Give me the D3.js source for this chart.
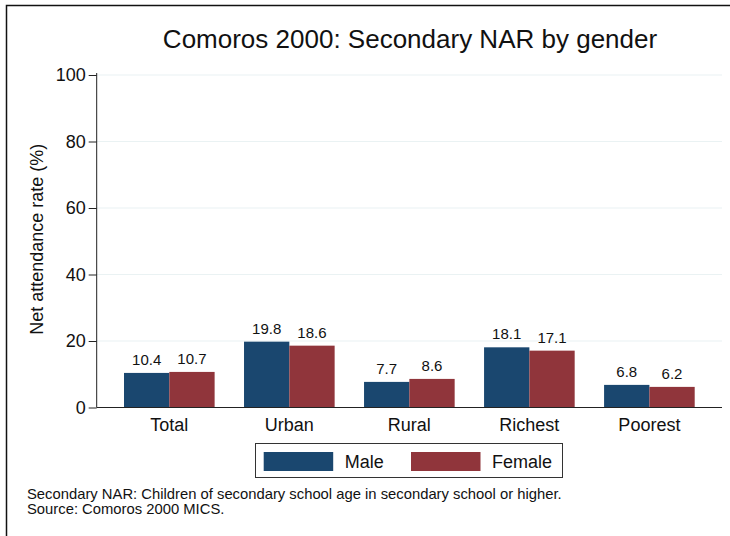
<!DOCTYPE html>
<html>
<head>
<meta charset="utf-8">
<script src="https://cdn.jsdelivr.net/npm/d3@7"></script>
<style>
  body { margin: 0; background: #fff; }
  svg { display: block; font-family: "Liberation Sans", Arial, sans-serif; }
</style>
</head>
<body>
<svg width="730" height="536"></svg>
<script>
const categories = ["Total", "Urban", "Rural", "Richest", "Poorest"];
const seriesNames = ["Male", "Female"];
const male = [10.4, 19.8, 7.7, 18.1, 6.8];
const female = [10.7, 18.6, 8.6, 17.1, 6.2];
const yTicks = [0, 20, 40, 60, 80, 100];
const colors = { Male: "#1a476f", Female: "#90353b" };

const data = categories.map((c, i) => ({ cat: c, Male: male[i], Female: female[i] }));

const svg = d3.select("svg");

// outer frame (cropped at right/bottom)
svg.append("rect")
  .attr("x", 6.5).attr("y", 5.5)
  .attr("width", 760).attr("height", 560)
  .attr("fill", "none")
  .attr("stroke", "#111")
  .attr("stroke-width", 1.5);

const plotLeft = 96.7, plotRight = 722, plotTop = 75, plotBottom = 407.5;

const x = d3.scaleBand()
  .domain(categories)
  .range([plotLeft, plotRight])
  .paddingInner(0.245)
  .paddingOuter(0.2275);

const xInner = d3.scaleBand()
  .domain(seriesNames)
  .range([0, x.bandwidth()]);

const y = d3.scaleLinear()
  .domain([0, 100])
  .range([plotBottom, plotTop]);

// gridlines
svg.append("g")
  .selectAll("line")
  .data(yTicks.filter(d => d > 0))
  .enter().append("line")
  .attr("x1", plotLeft).attr("x2", plotRight)
  .attr("y1", d => y(d)).attr("y2", d => y(d))
  .attr("stroke", "#eaf2f3")
  .attr("stroke-width", 1.2);

// bars
const groups = svg.append("g")
  .selectAll("g")
  .data(data)
  .enter().append("g")
  .attr("transform", d => `translate(${x(d.cat)},0)`);

groups.selectAll("rect")
  .data(d => seriesNames.map(s => ({ s: s, v: d[s] })))
  .enter().append("rect")
  .attr("x", d => xInner(d.s))
  .attr("y", d => y(d.v))
  .attr("width", xInner.bandwidth())
  .attr("height", d => y(0) - y(d.v))
  .attr("fill", d => colors[d.s]);

groups.selectAll("text")
  .data(d => seriesNames.map(s => ({ s: s, v: d[s] })))
  .enter().append("text")
  .attr("x", d => xInner(d.s) + xInner.bandwidth() / 2)
  .attr("y", d => y(d.v) - 8)
  .attr("text-anchor", "middle")
  .attr("font-size", 15)
  .attr("fill", "#111")
  .text(d => d.v.toFixed(1));

// y axis
const yAxis = d3.axisLeft(y).tickValues(yTicks).tickSize(8).tickPadding(3);
const yg = svg.append("g")
  .attr("transform", `translate(${plotLeft},0)`)
  .call(yAxis);
yg.select(".domain").attr("stroke", "#222").attr("d", `M0,${y(0)}V${y(100) - 2}`);
yg.selectAll(".tick line").attr("stroke", "#222");
yg.selectAll(".tick text").attr("font-size", 18).attr("fill", "#111")
  .attr("font-family", "Liberation Sans, Arial, sans-serif");

// x axis
const xAxis = d3.axisBottom(x).tickSize(0).tickPadding(11);
const xg = svg.append("g")
  .attr("transform", `translate(0,${plotBottom})`)
  .call(xAxis);
xg.select(".domain").attr("stroke", "#222").attr("d", `M${plotLeft},0H${plotRight}`);
xg.selectAll(".tick text").attr("font-size", 18).attr("fill", "#111")
  .attr("font-family", "Liberation Sans, Arial, sans-serif");

// title
svg.append("text")
  .attr("x", 410).attr("y", 48)
  .attr("text-anchor", "middle")
  .attr("font-size", 26)
  .attr("fill", "#111")
  .text("Comoros 2000: Secondary NAR by gender");

// y axis title
svg.append("text")
  .attr("transform", `translate(43,${(plotTop + plotBottom) / 2 - 2}) rotate(-90)`)
  .attr("text-anchor", "middle")
  .attr("font-size", 18)
  .attr("fill", "#111")
  .text("Net attendance rate (%)");

// legend
const lg = svg.append("g");
lg.append("rect")
  .attr("x", 255.5).attr("y", 443.5)
  .attr("width", 307).attr("height", 34)
  .attr("fill", "#fff")
  .attr("stroke", "#333");
const legendX = { Male: 263.7, Female: 411 };
seriesNames.forEach(s => {
  lg.append("rect")
    .attr("x", legendX[s]).attr("y", 452)
    .attr("width", 69.5).attr("height", 19)
    .attr("fill", colors[s]);
  lg.append("text")
    .attr("x", legendX[s] + 81).attr("y", 468)
    .attr("font-size", 18)
    .attr("fill", "#111")
    .text(s);
});

// notes
const notes = [
  "Secondary NAR: Children of secondary school age in secondary school or higher.",
  "Source: Comoros 2000 MICS."
];
svg.append("g").selectAll("text")
  .data(notes)
  .enter().append("text")
  .attr("x", 27)
  .attr("y", (d, i) => 499 + i * 15)
  .attr("font-size", 14.8)
  .attr("fill", "#111")
  .text(d => d);
</script>
</body>
</html>
